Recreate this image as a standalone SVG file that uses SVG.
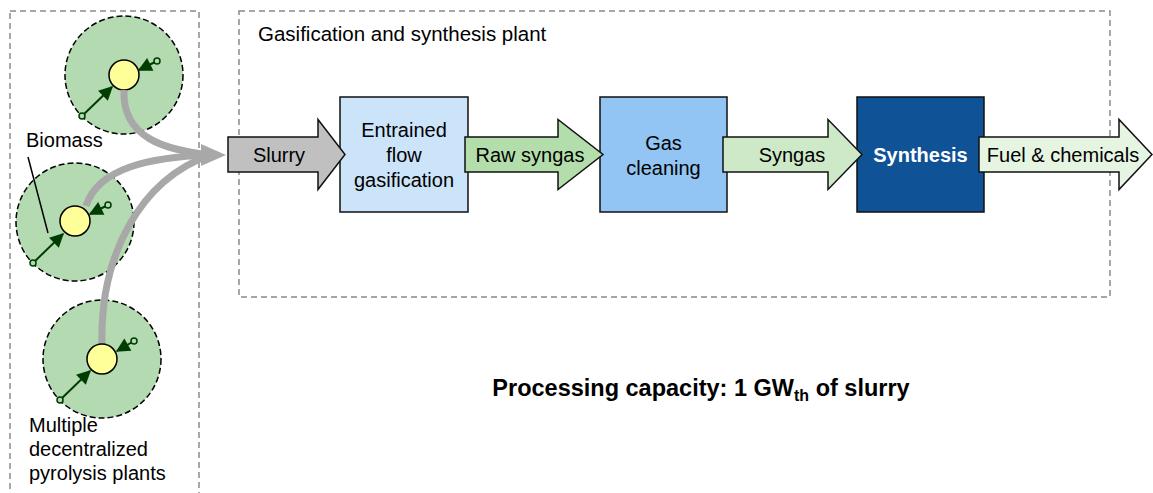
<svg xmlns="http://www.w3.org/2000/svg" width="1153" height="493" viewBox="0 0 1153 493">
<defs>
<style>
text{font-family:"Liberation Sans",Arial,sans-serif;font-size:20px;fill:#000}
.frame{fill:none;stroke:#8a8a8a;stroke-width:1.5;stroke-dasharray:6 4}
.site{fill:#b3dab1;stroke:#000;stroke-width:1.5;stroke-dasharray:6 3}
.plant{fill:#ffff99;stroke:#000;stroke-width:1.5}
.feed{stroke:#003d00;stroke-width:2;fill:none}
.dot{fill:#b3dab1;stroke:#003d00;stroke-width:1.5}
.pipe{fill:none;stroke:#a8a8a8;stroke-width:7;stroke-linecap:butt}
.box{stroke:#111;stroke-width:1.5}
.arrow{stroke:#111;stroke-width:1.5;stroke-linejoin:miter}
.c{text-anchor:middle}
</style>
<marker id="ah" viewBox="0 0 10 10" refX="9" refY="5" markerWidth="8" markerHeight="7" markerUnits="strokeWidth" orient="auto">
<path d="M0,0 L10,5 L0,10 Z" fill="#003d00"/>
</marker>
</defs>
<rect width="1153" height="493" fill="#fff"/>

<g id="frames">
<rect class="frame" x="10" y="11" width="189" height="500"/>
<rect class="frame" x="239" y="11" width="871" height="286"/>
<text x="258" y="41" style="font-size:20.5px">Gasification and synthesis plant</text>
</g>

<g id="site1">
<circle class="site" cx="124" cy="75" r="59"/>
<circle class="plant" cx="124" cy="75" r="15"/>
<line class="feed" x1="82" y1="116" x2="112" y2="87" marker-end="url(#ah)"/>
<line class="feed" x1="157" y1="61" x2="139" y2="70" marker-end="url(#ah)"/>
<circle class="dot" cx="82" cy="116" r="3"/>
<circle class="dot" cx="157" cy="61" r="3"/>
</g>

<g id="site2">
<circle class="site" cx="75" cy="222" r="59"/>
<line class="feed" x1="33" y1="263" x2="63" y2="234" marker-end="url(#ah)"/>
<line class="feed" x1="108" y1="205" x2="90" y2="214" marker-end="url(#ah)"/>
<circle class="dot" cx="33" cy="263" r="3"/>
<circle class="dot" cx="108" cy="205" r="3"/>
</g>

<g id="site3">
<circle class="site" cx="102" cy="359" r="59"/>
<line class="feed" x1="60" y1="400" x2="90" y2="371" marker-end="url(#ah)"/>
<line class="feed" x1="134" y1="341" x2="117" y2="351" marker-end="url(#ah)"/>
<circle class="dot" cx="60" cy="400" r="3"/>
<circle class="dot" cx="134" cy="341" r="3"/>
</g>

<g id="connectors">
<path class="pipe" d="M124,90 C122,138 165,150 210,155"/>
<path class="pipe" d="M86,206 C98,168 150,157 210,155"/>
<path class="pipe" d="M102,344 C100,255 140,180 210,155"/>
<polygon points="201,144 226,155 201,166" fill="#a8a8a8"/>
</g>

<g id="plants">
<circle class="plant" cx="75" cy="221" r="15"/>
<circle class="plant" cx="102" cy="359" r="15"/>
</g>

<g id="labels">
<text x="26" y="147">Biomass</text>
<line x1="28" y1="157" x2="48" y2="233" stroke="#000" stroke-width="1.5"/>
<text x="29" y="432">Multiple</text>
<text x="29" y="456">decentralized</text>
<text x="29" y="480">pyrolysis plants</text>
</g>

<g id="gasifier">
<rect class="box" x="340" y="97" width="128" height="115" fill="#cce4f9"/>
<text class="c" x="404" y="137">Entrained</text>
<text class="c" x="404" y="162">flow</text>
<text class="c" x="404" y="187">gasification</text>
</g>

<g id="cleaning">
<rect class="box" x="600" y="97" width="127" height="115" fill="#92c5f3"/>
<text class="c" x="663.5" y="149.5">Gas</text>
<text class="c" x="663.5" y="174.5">cleaning</text>
</g>

<g id="synthesis">
<rect class="box" x="857" y="97" width="127" height="115" fill="#0f5295"/>
<text class="c" x="920.5" y="162" style="fill:#fff;font-weight:bold">Synthesis</text>
</g>

<g id="slurry">
<polygon class="arrow" fill="#c0c0c0" points="228,137 318,137 318,119.5 345,154.5 318,189.5 318,172 228,172"/>
<text class="c" x="279" y="162">Slurry</text>
</g>

<g id="rawsyngas">
<polygon class="arrow" fill="#b3deab" points="465,137 558,137 558,119.5 603,154.5 558,189.5 558,172 465,172"/>
<text class="c" x="530" y="162">Raw syngas</text>
</g>

<g id="syngas">
<polygon class="arrow" fill="#cde9c7" points="723,137 828,137 828,119.5 862,154.5 828,189.5 828,172 723,172"/>
<text class="c" x="792" y="162">Syngas</text>
</g>

<g id="fuel">
<polygon class="arrow" fill="#e6f4e2" points="979,137 1119,137 1119,119.5 1152,154.5 1119,189.5 1119,172 979,172"/>
<text class="c" x="1063" y="162">Fuel &amp; chemicals</text>
</g>

<g id="capacity">
<text class="c" x="701" y="396" style="font-weight:bold;font-size:23.5px">Processing capacity: 1 GW<tspan style="font-size:16px" dy="5">th</tspan><tspan dy="-5"> of slurry</tspan></text>
</g>
</svg>
